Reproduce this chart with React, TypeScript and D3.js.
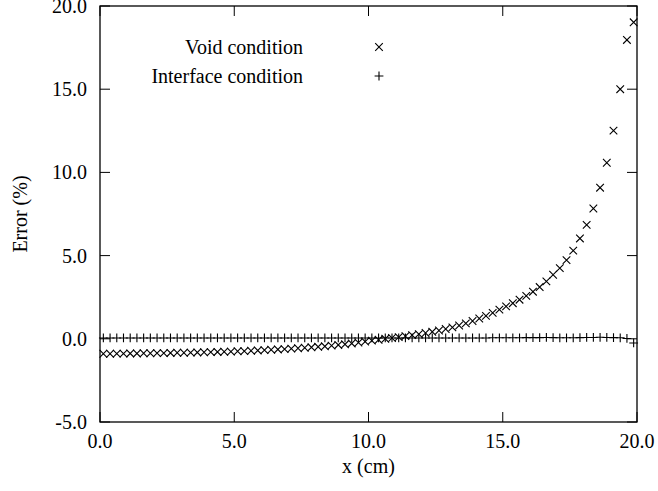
import React, { useRef, useEffect } from "react";
import * as d3 from "d3";

// sample positions (cm)
const xs: number[] = [
  0.125, 0.375, 0.625, 0.875, 1.125, 1.375, 1.625, 1.875, 2.125, 2.375,
  2.625, 2.875, 3.125, 3.375, 3.625, 3.875, 4.125, 4.375, 4.625, 4.875,
  5.125, 5.375, 5.625, 5.875, 6.125, 6.375, 6.625, 6.875, 7.125, 7.375,
  7.625, 7.875, 8.125, 8.375, 8.625, 8.875, 9.125, 9.375, 9.625, 9.875,
  10.125, 10.375, 10.625, 10.875, 11.125, 11.375, 11.625, 11.875, 12.125, 12.375,
  12.625, 12.875, 13.125, 13.375, 13.625, 13.875, 14.125, 14.375, 14.625, 14.875,
  15.125, 15.375, 15.625, 15.875, 16.125, 16.375, 16.625, 16.875, 17.125, 17.375,
  17.625, 17.875, 18.125, 18.375, 18.625, 18.875, 19.125, 19.375, 19.625, 19.875,
];

const voidErr: number[] = [
  -0.9, -0.9, -0.89, -0.89, -0.88, -0.88, -0.87, -0.87, -0.86, -0.86,
  -0.85, -0.84, -0.84, -0.83, -0.82, -0.81, -0.8, -0.79, -0.78, -0.77,
  -0.75, -0.74, -0.72, -0.7, -0.68, -0.66, -0.64, -0.62, -0.59, -0.57,
  -0.54, -0.51, -0.48, -0.45, -0.41, -0.37, -0.33, -0.28, -0.23, -0.17,
  -0.11, -0.06, 0.0, 0.05, 0.1, 0.16, 0.22, 0.28, 0.35, 0.42,
  0.5, 0.59, 0.69, 0.8, 0.93, 1.07, 1.22, 1.38, 1.56, 1.75,
  1.95, 2.14, 2.35, 2.58, 2.83, 3.11, 3.45, 3.85, 4.25, 4.73,
  5.3, 6.03, 6.85, 7.83, 9.08, 10.58, 12.51, 15.0, 17.96, 19.02,
];

const interfaceErr: number[] = [
  0.05, 0.05, 0.05, 0.05, 0.05, 0.05, 0.05, 0.05, 0.05, 0.05,
  0.05, 0.05, 0.05, 0.05, 0.05, 0.05, 0.05, 0.05, 0.05, 0.05,
  0.05, 0.05, 0.05, 0.05, 0.05, 0.05, 0.05, 0.05, 0.05, 0.05,
  0.05, 0.05, 0.05, 0.05, 0.05, 0.05, 0.05, 0.05, 0.05, 0.05,
  0.05, 0.05, 0.05, 0.05, 0.05, 0.05, 0.05, 0.05, 0.05, 0.05,
  0.05, 0.05, 0.05, 0.05, 0.05, 0.05, 0.05, 0.05, 0.06, 0.06,
  0.06, 0.06, 0.06, 0.07, 0.07, 0.07, 0.08, 0.07, 0.06, 0.06,
  0.06, 0.07, 0.08, 0.08, 0.09, 0.08, 0.07, 0.06, 0.02, -0.25,
];

const xTicks: number[] = [0, 5, 10, 15, 20];
const yTicks: number[] = [-5, 0, 5, 10, 15, 20];
const seriesNames: string[] = ["Void condition", "Interface condition"];

export default function App() {
  const ref = useRef<SVGSVGElement>(null);

  useEffect(() => {
    const width = 658;
    const height = 491;
    const left = 100, right = 637, top = 6, bottom = 422;
    const font = "'Liberation Serif', 'Times New Roman', serif";
    const fmt = (v: number) => d3.format(".1f")(v).replace("\u2212", "-");

    const svg = d3.select(ref.current);
    svg.selectAll("*").remove();
    svg.attr("width", width).attr("height", height);

    const x = d3.scaleLinear().domain([0, 20]).range([left, right]);
    const y = d3.scaleLinear().domain([-5, 20]).range([bottom, top]);

    const tick = 10;
    const axes = svg.append("g").attr("stroke", "#000").attr("stroke-width", 1);

    // ticks on all four sides, pointing in
    xTicks.forEach((t) => {
      axes.append("line").attr("x1", x(t)).attr("x2", x(t)).attr("y1", bottom).attr("y2", bottom - tick);
      axes.append("line").attr("x1", x(t)).attr("x2", x(t)).attr("y1", top).attr("y2", top + tick);
    });
    yTicks.forEach((t) => {
      axes.append("line").attr("x1", left).attr("x2", left + tick).attr("y1", y(t)).attr("y2", y(t));
      axes.append("line").attr("x1", right).attr("x2", right - tick).attr("y1", y(t)).attr("y2", y(t));
    });

    svg.append("rect")
      .attr("x", left).attr("y", top)
      .attr("width", right - left).attr("height", bottom - top)
      .attr("fill", "none").attr("stroke", "#000").attr("stroke-width", 1.3);

    const labels = svg.append("g").attr("font-family", font).attr("font-size", 20).attr("fill", "#000");

    labels.selectAll("text.xt")
      .data(xTicks)
      .join("text")
      .attr("class", "xt")
      .attr("x", (d) => x(d))
      .attr("y", 448)
      .attr("text-anchor", "middle")
      .text((d) => fmt(d));

    labels.selectAll("text.yt")
      .data(yTicks)
      .join("text")
      .attr("class", "yt")
      .attr("x", 87)
      .attr("y", (d) => y(d) + 7)
      .attr("text-anchor", "end")
      .text((d) => fmt(d));

    labels.append("text")
      .attr("x", (left + right) / 2)
      .attr("y", 473)
      .attr("text-anchor", "middle")
      .text("x (cm)");

    labels.append("text")
      .attr("transform", `translate(27,${(top + bottom) / 2}) rotate(-90)`)
      .attr("text-anchor", "middle")
      .text("Error (%)");

    const cross = (g: any, cx: number, cy: number) => {
      const s = 3.8;
      g.append("path")
        .attr("d", `M${cx - s},${cy - s}L${cx + s},${cy + s}M${cx - s},${cy + s}L${cx + s},${cy - s}`);
    };
    const plus = (g: any, cx: number, cy: number) => {
      const s = 4.4;
      g.append("path")
        .attr("d", `M${cx - s},${cy}L${cx + s},${cy}M${cx},${cy - s}L${cx},${cy + s}`);
    };

    const marks = svg.append("g").attr("stroke", "#000").attr("stroke-width", 1.1).attr("fill", "none");
    xs.forEach((v, i) => cross(marks, x(v), y(voidErr[i])));
    xs.forEach((v, i) => plus(marks, x(v), y(interfaceErr[i])));

    // legend
    labels.append("text").attr("x", 303).attr("y", 54).attr("text-anchor", "end").text(seriesNames[0]);
    labels.append("text").attr("x", 303).attr("y", 83).attr("text-anchor", "end").text(seriesNames[1]);
    cross(marks, 379, 47);
    plus(marks, 379, 76);
  }, []);

  return (
    <div style={{ position: "absolute", left: 0, top: 0 }}>
      <svg ref={ref} style={{ display: "block" }}></svg>
    </div>
  );
}
